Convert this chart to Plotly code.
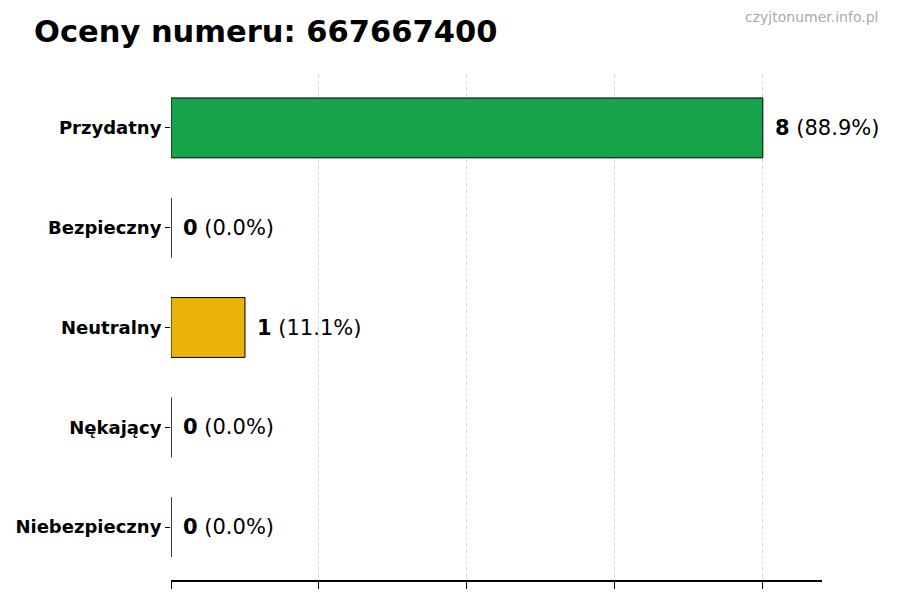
import plotly.graph_objects as go

categories = ["Przydatny", "Bezpieczny", "Neutralny", "Nękający", "Niebezpieczny"]
counts = [8, 0, 1, 0, 0]
colors = ["#17a34a", "#17a34a", "#eab308", "#dc2626", "#dc2626"]
title_text = "Oceny numeru: 667667400"
watermark = "czyjtonumer.info.pl"

L, R, T, B = 171, 900 - 822, 75, 600 - 580
PW, PH = 900 - L - R, 600 - T - B

total = sum(counts)
fig = go.Figure()
fig.add_trace(go.Bar(
    x=counts, y=categories, orientation="h",
    marker=dict(color=colors, line=dict(color="black", width=1)),
    width=0.6, hoverinfo="skip",
))

for c, v in zip(categories, counts):
    pct = 100.0 * v / total if total else 0
    fig.add_annotation(
        x=v, y=c, xref="x", yref="y",
        text=f"<b>{v}</b> ({pct:.1f}%)",
        showarrow=False, xanchor="left", yanchor="middle", xshift=10,
        font=dict(family="DejaVu Sans", size=21, color="black"),
    )

fig.add_annotation(
    x=(880 - L) / PW, y=(600 - B - 17) / PH, xref="paper", yref="paper",
    text=watermark, showarrow=False, xanchor="right", yanchor="middle",
    font=dict(family="DejaVu Sans", size=14, color="#aaaaaa"),
)

fig.update_layout(
    width=900, height=600,
    paper_bgcolor="white", plot_bgcolor="white",
    margin=dict(l=L, r=R, t=T, b=B),
    showlegend=False,
    title=dict(text=f"<b>{title_text}</b>", x=34 / 900, xanchor="left",
               y=1 - 31 / 600, yanchor="middle",
               font=dict(family="DejaVu Sans", size=30.5, color="black")),
    xaxis=dict(range=[0, 8.8], tickvals=[0, 2, 4, 6, 8], showticklabels=False,
               ticks="outside", ticklen=7, tickcolor="black",
               showline=True, linecolor="black", linewidth=1.5,
               showgrid=True, gridcolor="#dcdcdc", griddash="4px,2px", gridwidth=1,
               zeroline=False, automargin=False),
    yaxis=dict(autorange=False, range=[4.53, -0.53], categoryorder="array", categoryarray=categories,
               ticks="outside", ticklen=5, tickcolor="black", showline=False, showgrid=False,
               tickfont=dict(family="DejaVu Sans", size=18, color="black", weight="bold"),
               zeroline=False, automargin=False),
)

fig.write_html("out.html", config={"displayModeBar": False},
               post_script="document.body.style.margin='0';document.body.style.overflow='hidden';")
